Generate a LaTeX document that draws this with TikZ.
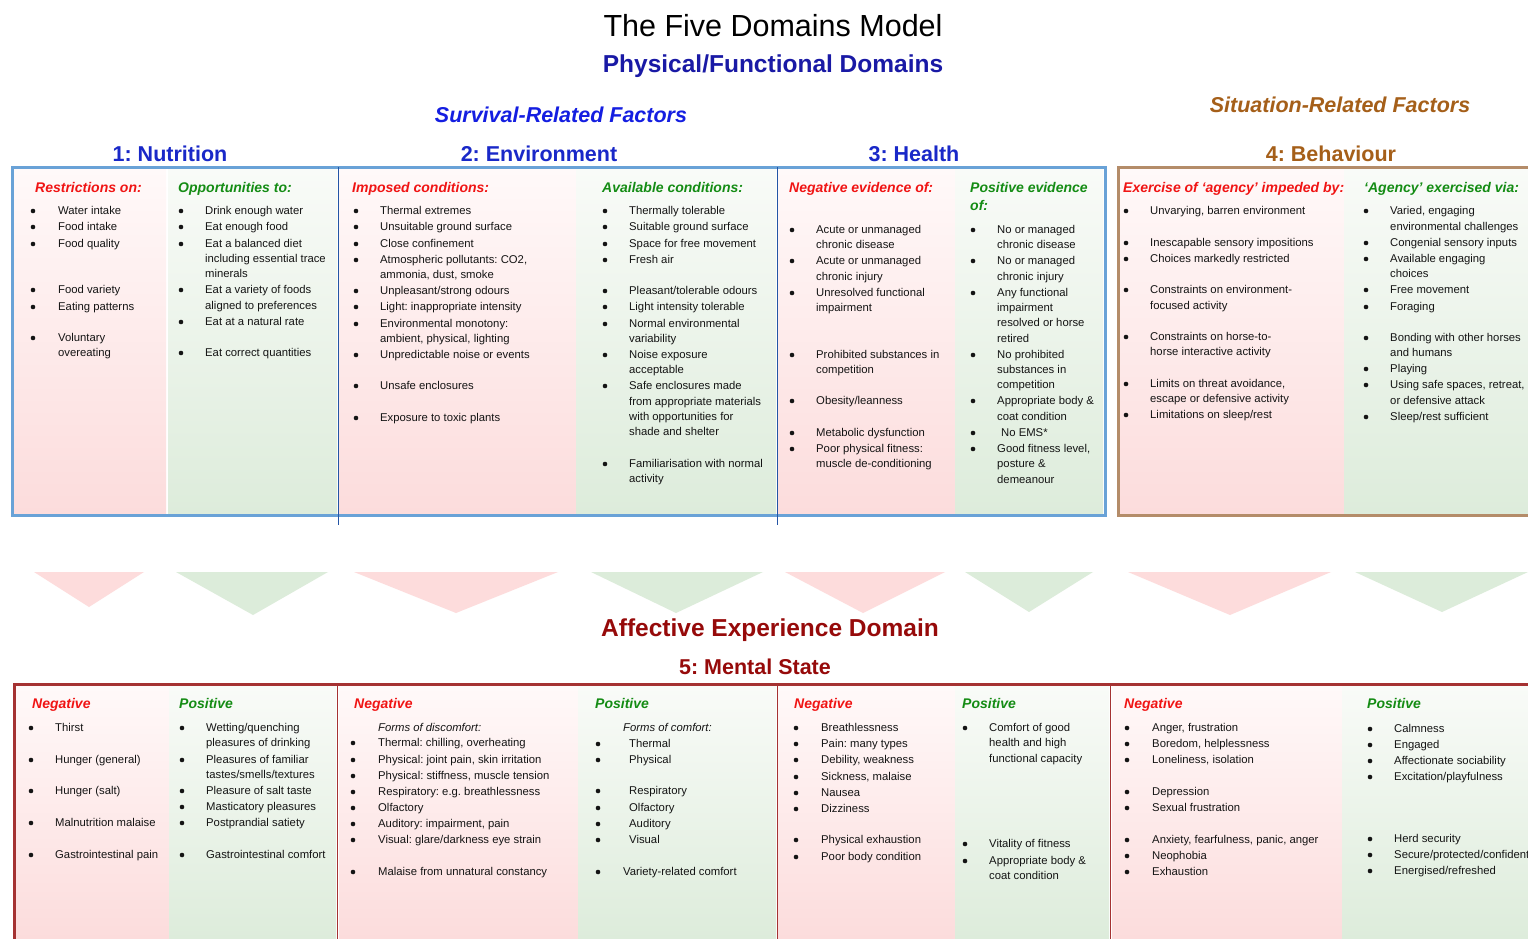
\documentclass[tikz,border=0pt]{standalone}
\usepackage{fontspec}
\setmainfont{Liberation Sans}
\frenchspacing
\newcounter{nd}
\definecolor{txt}{RGB}{20,20,20}
\definecolor{negred}{RGB}{240,20,20}
\definecolor{posgreen}{RGB}{20,140,20}
\definecolor{navyt}{RGB}{25,25,165}
\definecolor{domblue}{RGB}{25,40,200}
\definecolor{survblue}{RGB}{20,30,225}
\definecolor{brownt}{RGB}{165,95,25}
\definecolor{darkredt}{RGB}{150,10,10}
\definecolor{blueb}{RGB}{105,162,215}
\definecolor{divblue}{RGB}{35,85,165}
\definecolor{brownb}{RGB}{180,140,105}
\definecolor{redb}{RGB}{165,50,50}
\definecolor{pinkT}{RGB}{255,249,249}
\definecolor{pinkB}{RGB}{252,220,220}
\definecolor{greenT}{RGB}{249,251,248}
\definecolor{greenB}{RGB}{221,236,219}
\definecolor{pinktri}{RGB}{253,220,220}
\definecolor{greentri}{RGB}{220,236,218}
\newcommand\colset[2]{\def\colB{#1}\def\colT{#2}}
\newcommand\bI[2]{\stepcounter{nd}\node[bul] (b\arabic{nd}) at (\colB,{#1+1}) {};\node[itm] (t\arabic{nd}) at (\colT,{#1+4}) {#2};}
\newcommand\cI[2]{\stepcounter{nd}\node[itm] (t\arabic{nd}) at (\colT,{#1+4}) {#2};}
\newcommand\pk[4]{\fill[top color=pinkT, bottom color=pinkB] (#1,#2) rectangle (#3,#4);}
\newcommand\gr[4]{\fill[top color=greenT, bottom color=greenB] (#1,#2) rectangle (#3,#4);}
\begin{document}
\begin{tikzpicture}[x=1pt,y=-1pt,
  itm/.style={anchor=base west, inner sep=0pt, font=\fontsize{11.3}{13}\selectfont, text=txt},
  bul/.style={circle, fill=txt, inner sep=0pt, minimum size=4.6pt},
  hd/.style={anchor=base west, inner sep=0pt, font=\fontsize{14}{16}\selectfont\bfseries\itshape},
  negh/.style={hd, text=negred},
  posh/.style={hd, text=posgreen},
  ttl/.style={anchor=base, inner sep=0pt}]
\useasboundingbox (0,0) rectangle (1528,939);
\fill[white] (0,0) rectangle (1528,939);

% ---------- titles ----------
\node[ttl, font=\fontsize{30.5}{32}\selectfont, text=black] (title) at (773,37) {The Five Domains Model};
\node[ttl, font=\fontsize{24.5}{26}\selectfont\bfseries, text=navyt] (phys) at (773,73) {Physical/Functional Domains};
\node[ttl, font=\fontsize{21.5}{23}\selectfont\bfseries\itshape, text=survblue] (surv) at (561,123) {Survival-Related Factors};
\node[ttl, font=\fontsize{21.5}{23}\selectfont\bfseries\itshape, text=brownt] (situ) at (1340,113) {Situation-Related Factors};
\node[ttl, font=\fontsize{21.5}{23}\selectfont\bfseries, text=domblue] (d1) at (170,161) {1: Nutrition};
\node[ttl, font=\fontsize{21.5}{23}\selectfont\bfseries, text=domblue] (d2) at (539,161) {2: Environment};
\node[ttl, font=\fontsize{21.5}{23}\selectfont\bfseries, text=domblue] (d3) at (914,161) {3: Health};
\node[ttl, font=\fontsize{21.5}{23}\selectfont\bfseries, text=brownt] (d4) at (1331,161) {4: Behaviour};

% ---------- top backgrounds ----------
\pk{14}{169}{166}{513}
\gr{168}{169}{337}{513}
\pk{339}{169}{576}{513}
\gr{576}{169}{776}{513}
\pk{778}{169}{955}{513}
\gr{955}{169}{1103}{513}
\pk{1120}{169}{1344}{513}
\gr{1344}{169}{1528}{513}

% ---------- top borders ----------
\draw[blueb, line width=3pt] (12,167) rectangle (1105,515);
\draw[brownb, line width=3pt] (1540,167) -- (1118,167) -- (1118,515) -- (1540,515);
\draw[divblue, line width=1pt] (338,167) -- (338,525);
\draw[divblue, line width=1pt] (777,167) -- (777,525);

% ---------- top headers ----------
\node[negh] (h1n) at (35,192) {Restrictions on:};
\node[posh] (h1p) at (178,192) {Opportunities to:};
\node[negh] (h2n) at (352,192) {Imposed conditions:};
\node[posh] (h2p) at (602,192) {Available conditions:};
\node[negh] (h3n) at (789,192) {Negative evidence of:};
\node[posh] (h3p) at (970,192) {Positive evidence};
\node[posh] (h3q) at (970,210) {of:};
\node[negh] (h4n) at (1123,192) {Exercise of ‘agency’ impeded by:};
\node[posh] (h4p) at (1364,192) {‘Agency’ exercised via:};

% ---------- Nutrition ----------
\colset{33}{58}
\bI{210}{Water intake}
\bI{226}{Food intake}
\bI{243}{Food quality}
\bI{289}{Food variety}
\bI{306}{Eating patterns}
\bI{337}{Voluntary}
\cI{352}{overeating}
\colset{181}{205}
\bI{210}{Drink enough water}
\bI{226}{Eat enough food}
\bI{243}{Eat a balanced diet}
\cI{258}{including essential trace}
\cI{273}{minerals}
\bI{289}{Eat a variety of foods}
\cI{305}{aligned to preferences}
\bI{321}{Eat at a natural rate}
\bI{352}{Eat correct quantities}

% ---------- Environment ----------
\colset{356}{380}
\bI{210}{Thermal extremes}
\bI{226}{Unsuitable ground surface}
\bI{243}{Close confinement}
\bI{259}{Atmospheric pollutants: CO2,}
\cI{274}{ammonia, dust, smoke}
\bI{290}{Unpleasant/strong odours}
\bI{306}{Light: inappropriate intensity}
\bI{323}{Environmental monotony:}
\cI{338}{ambient, physical, lighting}
\bI{354}{Unpredictable noise or events}
\bI{385}{Unsafe enclosures}
\bI{417}{Exposure to toxic plants}
\colset{605}{629}
\bI{210}{Thermally tolerable}
\bI{226}{Suitable ground surface}
\bI{243}{Space for free movement}
\bI{259}{Fresh air}
\bI{290}{Pleasant/tolerable odours}
\bI{306}{Light intensity tolerable}
\bI{323}{Normal environmental}
\cI{338}{variability}
\bI{354}{Noise exposure}
\cI{369}{acceptable}
\bI{385}{Safe enclosures made}
\cI{401}{from appropriate materials}
\cI{416}{with opportunities for}
\cI{431}{shade and shelter}
\bI{463}{Familiarisation with normal}
\cI{478}{activity}

% ---------- Health ----------
\colset{792}{816}
\bI{229}{Acute or unmanaged}
\cI{244}{chronic disease}
\bI{260}{Acute or unmanaged}
\cI{276}{chronic injury}
\bI{292}{Unresolved functional}
\cI{307}{impairment}
\bI{354}{Prohibited substances in}
\cI{369}{competition}
\bI{400}{Obesity/leanness}
\bI{432}{Metabolic dysfunction}
\bI{448}{Poor physical fitness:}
\cI{463}{muscle de-conditioning}
\colset{973}{997}
\bI{229}{No or managed}
\cI{244}{chronic disease}
\bI{260}{No or managed}
\cI{276}{chronic injury}
\bI{292}{Any functional}
\cI{307}{impairment}
\cI{322}{resolved or horse}
\cI{338}{retired}
\bI{354}{No prohibited}
\cI{369}{substances in}
\cI{384}{competition}
\bI{400}{Appropriate body \&}
\cI{416}{coat condition}
\colset{973}{1001}
\bI{432}{No EMS*}
\colset{973}{997}
\bI{448}{Good fitness level,}
\cI{463}{posture \&}
\cI{479}{demeanour}

% ---------- Behaviour ----------
\colset{1126}{1150}
\bI{210}{Unvarying, barren environment}
\bI{242}{Inescapable sensory impositions}
\bI{258}{Choices markedly restricted}
\bI{289}{Constraints on environment-}
\cI{305}{focused activity}
\bI{336}{Constraints on horse-to-}
\cI{351}{horse interactive activity}
\bI{383}{Limits on threat avoidance,}
\cI{398}{escape or defensive activity}
\bI{414}{Limitations on sleep/rest}
\colset{1366}{1390}
\bI{210}{Varied, engaging}
\cI{226}{environmental challenges}
\bI{242}{Congenial sensory inputs}
\bI{258}{Available engaging}
\cI{273}{choices}
\bI{289}{Free movement}
\bI{306}{Foraging}
\bI{337}{Bonding with other horses}
\cI{352}{and humans}
\bI{368}{Playing}
\bI{384}{Using safe spaces, retreat,}
\cI{400}{or defensive attack}
\bI{416}{Sleep/rest sufficient}

% ---------- arrows (triangles) ----------
\fill[pinktri] (34,572) -- (144,572) -- (89,607) -- cycle;
\fill[greentri] (176,572) -- (328,572) -- (253,615) -- cycle;
\fill[pinktri] (354,572) -- (558,572) -- (456,613) -- cycle;
\fill[greentri] (591,572) -- (763,572) -- (676,613) -- cycle;
\fill[pinktri] (785,572) -- (945,572) -- (863,613) -- cycle;
\fill[greentri] (965,572) -- (1093,572) -- (1029,612) -- cycle;
\fill[pinktri] (1128,572) -- (1331,572) -- (1230,615) -- cycle;
\fill[greentri] (1355,572) -- (1528,572) -- (1442,612) -- cycle;

% ---------- affective titles ----------
\node[ttl, font=\fontsize{24.5}{26}\selectfont\bfseries, text=darkredt] (aff) at (770,636) {Affective Experience Domain};
\node[ttl, font=\fontsize{21.5}{23}\selectfont\bfseries, text=darkredt] (ms) at (755,674) {5: Mental State};

% ---------- bottom backgrounds ----------
\pk{16}{686}{169}{939}
\gr{169}{686}{336}{939}
\pk{339}{686}{578}{939}
\gr{578}{686}{776}{939}
\pk{778}{686}{955}{939}
\gr{955}{686}{1109}{939}
\pk{1112}{686}{1342}{939}
\gr{1342}{686}{1528}{939}

\draw[redb, line width=3pt] (14,950) -- (14,684) -- (1540,684);
\draw[redb, line width=1pt] (337,684) -- (337,950);
\draw[redb, line width=1pt] (777,684) -- (777,950);
\draw[redb, line width=1pt] (1110,684) -- (1110,950);

% ---------- bottom headers ----------
\node[negh] (m1n) at (32,708) {Negative};
\node[posh] (m1p) at (179,708) {Positive};
\node[negh] (m2n) at (354,708) {Negative};
\node[posh] (m2p) at (595,708) {Positive};
\node[negh] (m3n) at (794,708) {Negative};
\node[posh] (m3p) at (962,708) {Positive};
\node[negh] (m4n) at (1124,708) {Negative};
\node[posh] (m4p) at (1367,708) {Positive};

% ---------- col 1 ----------
\colset{31}{55}
\bI{727}{Thirst}
\bI{759}{Hunger (general)}
\bI{790}{Hunger (salt)}
\bI{822}{Malnutrition malaise}
\bI{854}{Gastrointestinal pain}
\colset{182}{206}
\bI{727}{Wetting/quenching}
\cI{742}{pleasures of drinking}
\bI{759}{Pleasures of familiar}
\cI{774}{tastes/smells/textures}
\bI{790}{Pleasure of salt taste}
\bI{806}{Masticatory pleasures}
\bI{822}{Postprandial satiety}
\bI{854}{Gastrointestinal comfort}

% ---------- col 2 ----------
\colset{353}{378}
\cI{727}{\itshape Forms of discomfort:}
\bI{742}{Thermal: chilling, overheating}
\bI{759}{Physical: joint pain, skin irritation}
\bI{775}{Physical: stiffness, muscle tension}
\bI{791}{Respiratory: e.g. breathlessness}
\bI{807}{Olfactory}
\bI{823}{Auditory: impairment, pain}
\bI{839}{Visual: glare/darkness eye strain}
\bI{871}{Malaise from unnatural constancy}
\colset{598}{623}
\cI{727}{\itshape Forms of comfort:}
\colset{598}{629}
\bI{743}{Thermal}
\bI{759}{Physical}
\bI{790}{Respiratory}
\bI{807}{Olfactory}
\bI{823}{Auditory}
\bI{839}{Visual}
\colset{598}{623}
\bI{871}{Variety-related comfort}

% ---------- col 3 ----------
\colset{796}{821}
\bI{727}{Breathlessness}
\bI{743}{Pain: many types}
\bI{759}{Debility, weakness}
\bI{776}{Sickness, malaise}
\bI{792}{Nausea}
\bI{808}{Dizziness}
\bI{839}{Physical exhaustion}
\bI{856}{Poor body condition}
\colset{965}{989}
\bI{727}{Comfort of good}
\cI{742}{health and high}
\cI{758}{functional capacity}
\bI{843}{Vitality of fitness}
\bI{860}{Appropriate body \&}
\cI{875}{coat condition}

% ---------- col 4 ----------
\colset{1127}{1152}
\bI{727}{Anger, frustration}
\bI{743}{Boredom, helplessness}
\bI{759}{Loneliness, isolation}
\bI{791}{Depression}
\bI{807}{Sexual frustration}
\bI{839}{Anxiety, fearfulness, panic, anger}
\bI{855}{Neophobia}
\bI{871}{Exhaustion}
\colset{1370}{1394}
\bI{728}{Calmness}
\bI{744}{Engaged}
\bI{760}{Affectionate sociability}
\bI{776}{Excitation/playfulness}
\bI{838}{Herd security}
\bI{854}{Secure/protected/confident}
\bI{870}{Energised/refreshed}
\end{tikzpicture}
\end{document}
